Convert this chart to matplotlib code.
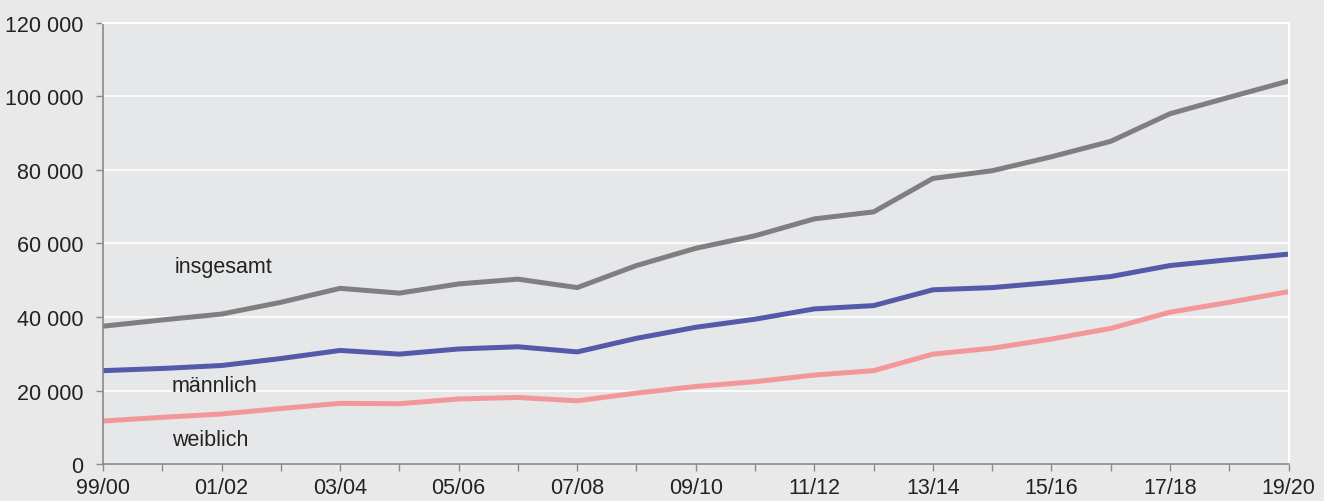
import matplotlib.pyplot as plt

# Studienjahre 1999/00 bis 2019/20
years = ['99/00', '00/01', '01/02', '02/03', '03/04', '04/05', '05/06', '06/07',
         '07/08', '08/09', '09/10', '10/11', '11/12', '12/13', '13/14', '14/15',
         '15/16', '16/17', '17/18', '18/19', '19/20']

insgesamt = [37500, 39200, 40800, 44000, 47800, 46500, 49000, 50300, 48000, 54000,
             58700, 62100, 66700, 68600, 77700, 79800, 83600, 87800, 95300, 99800,
             104200]
maennlich = [25400, 26000, 26800, 28700, 30900, 29900, 31300, 31900, 30500, 34200,
             37200, 39400, 42200, 43100, 47400, 48000, 49400, 51000, 54000, 55600,
             57100]
weiblich = [11700, 12700, 13600, 15100, 16500, 16400, 17700, 18100, 17200, 19300,
            21100, 22400, 24200, 25400, 29900, 31500, 34000, 36900, 41300, 44000,
            46900]

plt.rcParams['font.family'] = ['Liberation Sans', 'DejaVu Sans']
plt.rcParams['font.size'] = 15.5

fig = plt.figure(figsize=(13.24, 5.02), dpi=100, facecolor='#e8e9e8')
ax = fig.add_axes([0.0778, 0.0737, 0.8954, 0.8785])
ax.set_facecolor('#e6e7e8')

x = list(range(len(years)))
ax.plot(x, insgesamt, color='#7f7f81', lw=3.6, solid_joinstyle='round')
ax.plot(x, maennlich, color='#5459aa', lw=3.6, solid_joinstyle='round')
ax.plot(x, weiblich, color='#f4979a', lw=3.6, solid_joinstyle='round')

txt = '#222222'
ax.text(1.2, 53800, 'insgesamt', color=txt, va='center')
ax.text(1.16, 21300, 'männlich', color=txt, va='center')
ax.text(1.17, 6700, 'weiblich', color=txt, va='center')

ax.set_xlim(0, 20)
ax.set_ylim(0, 120000)
ax.set_yticks(range(0, 120001, 20000))
ax.set_yticklabels([f'{v:,}'.replace(',', ' ') for v in range(0, 120001, 20000)])
ax.set_xticks(x)
ax.set_xticklabels([y if i % 2 == 0 else '' for i, y in enumerate(years)])

ax.grid(axis='y', color='white', lw=1.2)
ax.set_axisbelow(True)
for s in ['top', 'right']:
    ax.spines[s].set_color('white')
    ax.spines[s].set_linewidth(1.5)
for s in ['left', 'bottom']:
    ax.spines[s].set_color('#8a8a8a')
    ax.spines[s].set_linewidth(1.2)
ax.tick_params(axis='both', colors='#8a8a8a', labelcolor=txt, length=5, width=1)
ax.tick_params(axis='y', pad=9)
ax.tick_params(axis='x', pad=4)

fig.savefig('out.png', dpi=100, facecolor=fig.get_facecolor())
